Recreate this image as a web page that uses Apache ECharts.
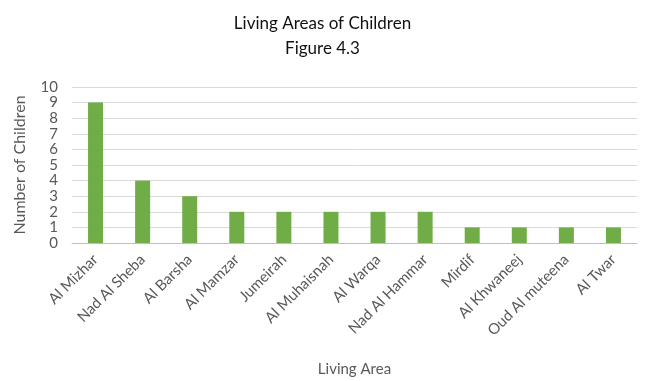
<!DOCTYPE html>
<html><head><meta charset="utf-8">
<script src="https://cdn.jsdelivr.net/npm/echarts@6/dist/echarts.min.js"></script>
<style>html,body{margin:0;padding:0;background:#fff}#c{width:645px;height:381px}</style>
</head><body><div id="c"></div>
<script>
const categories = ["Al Mizhar","Nad Al Sheba","Al Barsha","Al Mamzar","Jumeirah","Al Muhaisnah","Al Warqa","Nad Al Hammar","Mirdif","Al Khwaneej","Oud Al muteena","Al Twar"];
const values = [9,4,3,2,2,2,2,2,1,1,1,1];
const yTicks = [0,1,2,3,4,5,6,7,8,9,10];
const font = "Lato, 'Open Sans', sans-serif";
const chart = echarts.init(document.getElementById('c'));
chart.setOption({
  animation:false,
  title:{text:"Living Areas of Children\nFigure 4.3",left:'center',top:6,
    textStyle:{fontFamily:font,fontSize:17,fontWeight:'normal',color:'#111',lineHeight:25}},
  grid:{left:72,right:8,top:87,bottom:138},
  xAxis:{type:'category',data:categories,
    name:'Living Area',nameLocation:'middle',nameGap:119,
    nameTextStyle:{fontFamily:font,fontSize:15,color:'#595959'},
    axisLine:{lineStyle:{color:'#bfbfbf'}},axisTick:{show:false},
    axisLabel:{rotate:45,fontFamily:font,fontSize:15,color:'#595959',margin:14,interval:0}},
  yAxis:{type:'value',min:yTicks[0],max:yTicks[yTicks.length-1],interval:1,
    name:'Number of Children',nameLocation:'middle',nameGap:44,
    nameTextStyle:{fontFamily:font,fontSize:16,color:'#595959'},
    axisLabel:{fontFamily:font,fontSize:15,color:'#595959',margin:14},
    splitLine:{lineStyle:{color:'#d9d9d9'}},axisLine:{show:false},axisTick:{show:false}},
  series:[{type:'bar',data:values,barWidth:15,itemStyle:{color:'#70ad47'}}]
});
</script></body></html>
